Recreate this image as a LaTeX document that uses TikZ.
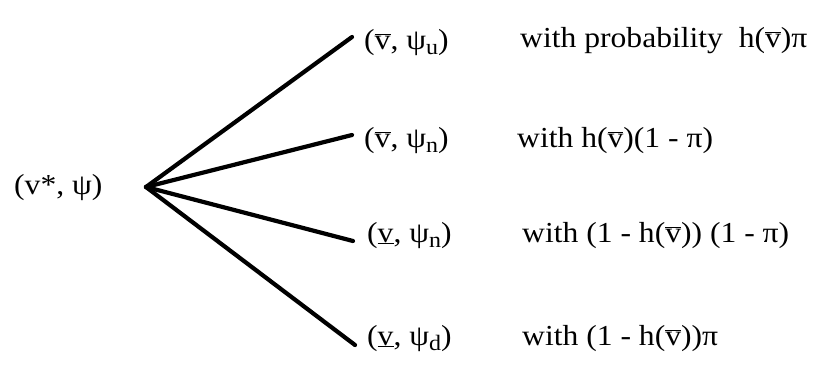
\documentclass[tikz,border=0pt]{standalone}
\usepackage{fontspec}
\usepackage{graphicx}
\setmainfont{Liberation Serif}
\newcommand{\vbar}{$\overline{\mbox{v}}$}
\newcommand{\vund}{$\underline{\mbox{v}}$}
\newcommand{\psisub}[1]{ψ\raisebox{-0.4ex}{\fontsize{22}{24}\selectfont #1}}
\newcommand{\widetxt}[1]{\scalebox{1.09}[1]{#1}}
\begin{document}
\begin{tikzpicture}[x=1pt,y=-1pt,
  lbl/.style={anchor=base west,inner sep=0pt,font=\fontsize{29}{32}\selectfont},
  branch/.style={line width=4.2pt,line cap=round}]
\useasboundingbox (0,0) rectangle (814,376);
\node[lbl] (root) at (14,194) {\widetxt{(v*, ψ)}};
\coordinate (apex) at (146,187);
\coordinate (e1) at (352,37);
\coordinate (e2) at (352,135);
\coordinate (e3) at (353,241);
\coordinate (e4) at (355,345);
\draw[branch] (apex) -- (e1);
\draw[branch] (apex) -- (e2);
\draw[branch] (apex) -- (e3);
\draw[branch] (apex) -- (e4);
\node[lbl] (s1) at (364,49) {\widetxt{(\vbar, \psisub{u})}};
\node[lbl] (s2) at (364,147) {\widetxt{(\vbar, \psisub{n})}};
\node[lbl] (s3) at (367,242) {\widetxt{(\vund, \psisub{n})}};
\node[lbl] (s4) at (367,345) {\widetxt{(\vund, \psisub{d})}};
\node[lbl] (p1) at (520,47) {\widetxt{with probability\ \ h(\vbar)π}};
\node[lbl] (p2) at (517,147) {\widetxt{with h(\vbar)(1 - π)}};
\node[lbl] (p3) at (522,242) {\widetxt{with (1 - h(\vbar)) (1 - π)}};
\node[lbl] (p4) at (522,345) {\widetxt{with (1 - h(\vbar))π}};
\end{tikzpicture}
\end{document}
